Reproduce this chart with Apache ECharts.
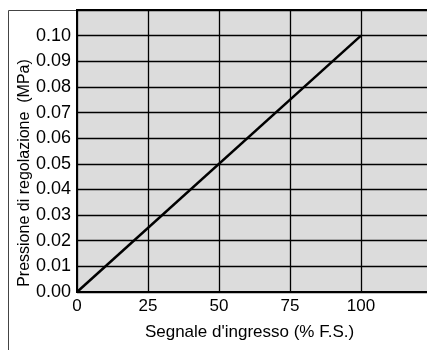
<!DOCTYPE html>
<html>
<head>
<meta charset="utf-8">
<script src="https://cdn.jsdelivr.net/npm/echarts@6/dist/echarts.min.js"></script>
<style>
  html, body { margin: 0; padding: 0; background: #fff; }
  #chart { width: 427px; height: 350px; }
</style>
</head>
<body>
<div id="chart"></div>
<script>
// Input signal (% of full scale) vs. regulated pressure (MPa)
const signalPct = [0, 100];
const pressureMPa = [0, 0.10];
const xTicks = [0, 25, 50, 75, 100];
const yTicks = [0.00, 0.01, 0.02, 0.03, 0.04, 0.05, 0.06, 0.07, 0.08, 0.09, 0.10];

const font = 'Liberation Sans, Arial, sans-serif';
const chart = echarts.init(document.getElementById('chart'));

chart.setOption({
  animation: false,
  graphic: [{
    type: 'rect',
    shape: { x: 8.5, y: 10.5, width: 500, height: 400 },
    style: { fill: 'none', stroke: '#444', lineWidth: 1 },
    z: -1
  }],
  grid: {
    left: 77, top: 10, width: 355, height: 282,
    outerBoundsMode: 'none',
    containLabel: false,
    show: true,
    backgroundColor: '#dcdcdc',
    borderColor: '#000',
    borderWidth: 2
  },
  xAxis: {
    type: 'value',
    min: 0, max: 125, interval: 25,
    name: "Segnale d'ingresso (% F.S.)",
    nameLocation: 'middle',
    nameGap: 32,
    nameMoveOverlap: false,
    nameTextStyle: { fontFamily: font, fontSize: 17, color: '#000', padding: [0, 0, 0, -10] },
    axisLine: { show: true, lineStyle: { color: '#000', width: 2 } },
    axisTick: { show: false },
    axisLabel: {
      fontFamily: font, fontSize: 17, color: '#000', margin: 6,
      formatter: v => xTicks.includes(v) ? String(v) : ''
    },
    splitLine: { show: true, lineStyle: { color: '#000', width: 1.3 } }
  },
  yAxis: {
    type: 'value',
    min: 0, max: 0.11, interval: 0.01,
    name: 'Pressione di regolazione  (MPa)',
    nameLocation: 'middle',
    nameGap: 44,
    nameMoveOverlap: false,
    nameRotate: 90,
    nameTextStyle: { fontFamily: font, fontSize: 16, color: '#000', padding: [0, 44, 0, 0] },
    axisLine: { show: true, lineStyle: { color: '#000', width: 2 } },
    axisTick: { show: false },
    axisLabel: {
      fontFamily: font, fontSize: 18, color: '#000', margin: 6,
      formatter: v => {
        const r = Math.round(v * 100) / 100;
        return yTicks.some(t => Math.abs(t - r) < 1e-9) ? r.toFixed(2) : '';
      }
    },
    splitLine: { show: true, lineStyle: { color: '#000', width: 1.3 } }
  },
  series: [{
    type: 'line',
    data: signalPct.map((x, i) => [x, pressureMPa[i]]),
    symbol: 'none',
    lineStyle: { color: '#000', width: 2.5 },
    z: 5
  }]
});
</script>
</body>
</html>
